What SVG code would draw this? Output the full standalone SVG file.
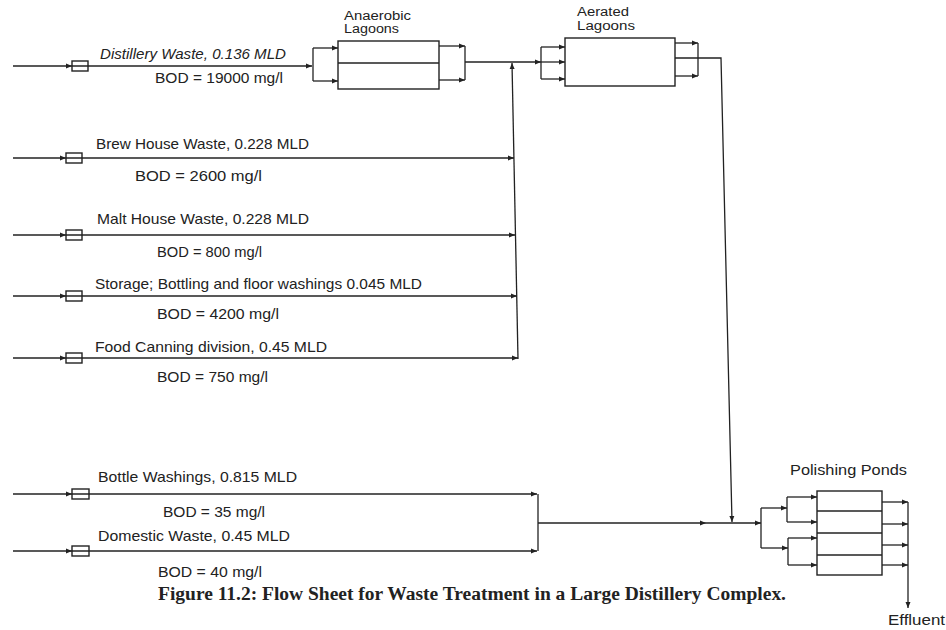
<svg xmlns="http://www.w3.org/2000/svg" width="946" height="630" viewBox="0 0 946 630">
<style>
.ln{fill:none;stroke:#222;stroke-width:1.3}
.bx{fill:none;stroke:#222;stroke-width:1.4}
.t{font-family:"Liberation Sans",Arial,sans-serif;font-size:14.5px;fill:#222}
.s{font-family:"Liberation Sans",Arial,sans-serif;font-size:12.5px;fill:#222}
.cap{font-family:"Liberation Serif","Times New Roman",serif;font-size:18.5px;font-weight:bold;fill:#222}
</style>
<defs>
<marker id="a" markerUnits="userSpaceOnUse" markerWidth="7" markerHeight="6" refX="6" refY="3" orient="auto">
<path d="M0,0.5 L6,3 L0,5.5 z" fill="#222"/>
</marker>
</defs>
<rect width="946" height="630" fill="#fff"/>

<g id="connectors">
<path class="ln" d="M13,66 H72" marker-end="url(#a)"/>
<path class="ln" d="M72,66 H312" marker-end="url(#a)"/>
<path class="ln" d="M313,48 V81"/>
<path class="ln" d="M313,48 H338" marker-end="url(#a)"/>
<path class="ln" d="M313,81 H338" marker-end="url(#a)"/>
<path class="ln" d="M439,46 H465" marker-end="url(#a)"/>
<path class="ln" d="M439,80 H465" marker-end="url(#a)"/>
<path class="ln" d="M465,46 V80"/>
<path class="ln" d="M465,62 H541" marker-end="url(#a)"/>
<path class="ln" d="M541,47 V79"/>
<path class="ln" d="M541,47 H565" marker-end="url(#a)"/>
<path class="ln" d="M541,62 H565" marker-end="url(#a)"/>
<path class="ln" d="M541,79 H565" marker-end="url(#a)"/>
<path class="ln" d="M675,43 H698" marker-end="url(#a)"/>
<path class="ln" d="M675,76 H698" marker-end="url(#a)"/>
<path class="ln" d="M698,43 V76"/>
<path class="ln" d="M675,58 H721 L732,522" marker-end="url(#a)"/>
<path class="ln" d="M518,359 L512,63" marker-end="url(#a)"/>
<path class="ln" d="M13,158 H66" marker-end="url(#a)"/>
<path class="ln" d="M66,158 H514" marker-end="url(#a)"/>
<path class="ln" d="M13,235 H66" marker-end="url(#a)"/>
<path class="ln" d="M66,235 H515" marker-end="url(#a)"/>
<path class="ln" d="M13,296 H66" marker-end="url(#a)"/>
<path class="ln" d="M66,296 H517" marker-end="url(#a)"/>
<path class="ln" d="M13,358 H66" marker-end="url(#a)"/>
<path class="ln" d="M66,358 H518" marker-end="url(#a)"/>
<path class="ln" d="M13,494 H72" marker-end="url(#a)"/>
<path class="ln" d="M72,494 H537" marker-end="url(#a)"/>
<path class="ln" d="M13,551 H72" marker-end="url(#a)"/>
<path class="ln" d="M72,551 H537" marker-end="url(#a)"/>
<path class="ln" d="M538,494 V551"/>
<path class="ln" d="M538,523 H706" marker-end="url(#a)"/>
<path class="ln" d="M706,523 H761" marker-end="url(#a)"/>
<path class="ln" d="M761,508 V548"/>
<path class="ln" d="M761,508 H787" marker-end="url(#a)"/>
<path class="ln" d="M761,548 H788" marker-end="url(#a)"/>
<path class="ln" d="M787,497 V522"/>
<path class="ln" d="M787,497 H817" marker-end="url(#a)"/>
<path class="ln" d="M787,522 H817" marker-end="url(#a)"/>
<path class="ln" d="M788,538 V565"/>
<path class="ln" d="M788,538 H817" marker-end="url(#a)"/>
<path class="ln" d="M788,565 H817" marker-end="url(#a)"/>
<path class="ln" d="M882,502 H908" marker-end="url(#a)"/>
<path class="ln" d="M882,524 H908" marker-end="url(#a)"/>
<path class="ln" d="M882,545 H908" marker-end="url(#a)"/>
<path class="ln" d="M882,565 H908" marker-end="url(#a)"/>
<path class="ln" d="M908,502 V608" marker-end="url(#a)"/>
</g>

<g id="distillery">
<rect class="bx" x="72" y="61" width="16" height="10"/>
<text class="t" x="100" y="59" font-style="italic" textLength="186" lengthAdjust="spacingAndGlyphs">Distillery Waste, 0.136 MLD</text>
<text class="t" x="155" y="83" textLength="128" lengthAdjust="spacingAndGlyphs">BOD = 19000 mg/l</text>
</g>
<g id="brewhouse">
<rect class="bx" x="66" y="153" width="16" height="10"/>
<text class="t" x="96" y="149" textLength="213" lengthAdjust="spacingAndGlyphs">Brew House Waste, 0.228 MLD</text>
<text class="t" x="135" y="181" textLength="127" lengthAdjust="spacingAndGlyphs">BOD = 2600 mg/l</text>
</g>
<g id="malthouse">
<rect class="bx" x="66" y="230" width="16" height="10"/>
<text class="t" x="97" y="224" textLength="212" lengthAdjust="spacingAndGlyphs">Malt House Waste, 0.228 MLD</text>
<text class="t" x="157" y="257" textLength="105" lengthAdjust="spacingAndGlyphs">BOD = 800 mg/l</text>
</g>
<g id="storage">
<rect class="bx" x="66" y="291" width="16" height="10"/>
<text class="t" x="95" y="289" textLength="327" lengthAdjust="spacingAndGlyphs">Storage; Bottling and floor washings 0.045 MLD</text>
<text class="t" x="157" y="319" textLength="122" lengthAdjust="spacingAndGlyphs">BOD = 4200 mg/l</text>
</g>
<g id="foodcanning">
<rect class="bx" x="66" y="353" width="16" height="10"/>
<text class="t" x="95" y="352" textLength="232" lengthAdjust="spacingAndGlyphs">Food Canning division, 0.45 MLD</text>
<text class="t" x="157" y="382" textLength="111" lengthAdjust="spacingAndGlyphs">BOD = 750 mg/l</text>
</g>
<g id="bottlewash">
<rect class="bx" x="72" y="489" width="17" height="10"/>
<text class="t" x="98" y="482" textLength="199" lengthAdjust="spacingAndGlyphs">Bottle Washings, 0.815 MLD</text>
<text class="t" x="163" y="517" textLength="102" lengthAdjust="spacingAndGlyphs">BOD = 35 mg/l</text>
</g>
<g id="domestic">
<rect class="bx" x="72" y="546" width="17" height="10"/>
<text class="t" x="98" y="541" textLength="192" lengthAdjust="spacingAndGlyphs">Domestic Waste, 0.45 MLD</text>
<text class="t" x="158" y="577" textLength="104" lengthAdjust="spacingAndGlyphs">BOD = 40 mg/l</text>
</g>

<g id="anaerobic">
<rect class="bx" x="338" y="41" width="101" height="48"/>
<line class="bx" x1="338" y1="63" x2="439" y2="63"/>
<text class="s" x="344" y="20" textLength="67" lengthAdjust="spacingAndGlyphs">Anaerobic</text>
<text class="s" x="344" y="33" textLength="55" lengthAdjust="spacingAndGlyphs">Lagoons</text>
</g>
<g id="aerated">
<rect class="bx" x="565" y="38" width="110" height="48"/>
<text class="s" x="577" y="16" textLength="52" lengthAdjust="spacingAndGlyphs">Aerated</text>
<text class="s" x="577" y="30" textLength="58" lengthAdjust="spacingAndGlyphs">Lagoons</text>
</g>
<g id="polishing">
<rect class="bx" x="817" y="491" width="65" height="84"/>
<line class="bx" x1="817" y1="511" x2="882" y2="511"/>
<line class="bx" x1="817" y1="533" x2="882" y2="533"/>
<line class="bx" x1="817" y1="555" x2="882" y2="555"/>
<text class="t" x="790" y="475" textLength="117" lengthAdjust="spacingAndGlyphs">Polishing Ponds</text>
</g>
<g id="effluent">
<text class="t" x="888" y="625" textLength="57" lengthAdjust="spacingAndGlyphs">Effluent</text>
</g>
<g id="caption">
<text class="cap" x="158" y="600" textLength="628" lengthAdjust="spacingAndGlyphs">Figure 11.2: Flow Sheet for Waste Treatment in a Large Distillery Complex.</text>
</g>
</svg>
